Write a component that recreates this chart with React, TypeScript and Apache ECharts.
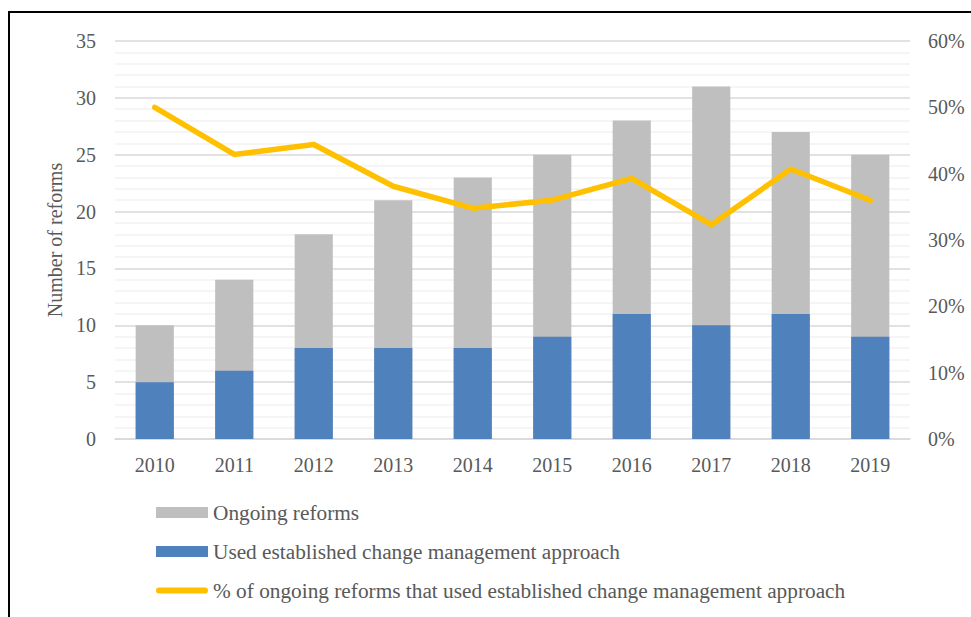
import React, { useEffect, useRef } from "react";
import * as echarts from "echarts";

const years = ["2010", "2011", "2012", "2013", "2014", "2015", "2016", "2017", "2018", "2019"];
const ongoingReforms = [10, 14, 18, 21, 23, 25, 28, 31, 27, 25];
const usedApproach = [5, 6, 8, 8, 8, 9, 11, 10, 11, 9];
const percentUsed = [0.5, 0.429, 0.444, 0.381, 0.348, 0.36, 0.393, 0.323, 0.407, 0.36];

const FONT = "'Liberation Serif', 'Times New Roman', serif";
const TXT = "#595959";

export default function App() {
  const ref = useRef<HTMLDivElement>(null);
  useEffect(() => {
    const chart = echarts.init(ref.current!, null, { renderer: "svg" });
    chart.setOption({
      animation: false,
      textStyle: { fontFamily: FONT },
      grid: { left: 115, right: 61, top: 41, bottom: 178 },
      graphic: [
        {
          type: "rect",
          shape: { x: 9, y: 12, width: 1000, height: 700 },
          style: { fill: "none", stroke: "#000", lineWidth: 2 },
          silent: true,
        },
      ],
      legend: {
        orient: "vertical",
        left: 156,
        top: 502,
        padding: 0,
        itemWidth: 52,
        itemHeight: 11,
        itemGap: 18,
        textStyle: { fontFamily: FONT, fontSize: 21.3, color: TXT },
        data: [
          { name: "Ongoing reforms", icon: "rect" },
          { name: "Used established change management approach", icon: "rect" },
          {
            name: "% of ongoing reforms that used established change management approach",
            icon: "path://M3,0 H51 A3,3 0 0 1 51,6 H3 A3,3 0 0 1 3,0 Z",
          },
        ],
      },
      xAxis: {
        type: "category",
        data: years,
        axisLine: { lineStyle: { color: "#d9d9d9", width: 1.5 } },
        axisTick: { show: false },
        axisLabel: { fontFamily: FONT, fontSize: 20, color: TXT, margin: 16 },
      },
      yAxis: [
        {
          type: "value",
          min: 0,
          max: 35,
          interval: 5,
          name: "Number of reforms",
          nameLocation: "middle",
          nameGap: 48,
          nameTextStyle: { fontFamily: FONT, fontSize: 20, color: TXT },
          axisLine: { show: false },
          axisTick: { show: false },
          axisLabel: { fontFamily: FONT, fontSize: 20, color: TXT, margin: 19 },
          splitLine: { lineStyle: { color: "#d9d9d9", width: 1.5 } },
          minorTick: { show: false, splitNumber: 5 },
          minorSplitLine: { show: true, lineStyle: { color: "#f2f2f2", width: 1.5 } },
        },
        {
          type: "value",
          min: 0,
          max: 0.6,
          interval: 0.1,
          axisLine: { show: false },
          axisTick: { show: false },
          splitLine: { show: false },
          axisLabel: {
            fontFamily: FONT,
            fontSize: 20,
            color: TXT,
            margin: 18,
            formatter: (v: number) => Math.round(v * 100) + "%",
          },
        },
      ],
      series: [
        {
          name: "Ongoing reforms",
          type: "bar",
          data: ongoingReforms,
          barWidth: "48%",
          barGap: "-100%",
          itemStyle: { color: "#BFBFBF" },
        },
        {
          name: "Used established change management approach",
          type: "bar",
          data: usedApproach,
          barWidth: "48%",
          barGap: "-100%",
          itemStyle: { color: "#4F81BD" },
        },
        {
          name: "% of ongoing reforms that used established change management approach",
          type: "line",
          yAxisIndex: 1,
          data: percentUsed,
          symbol: "none",
          lineStyle: { color: "#FFC000", width: 5.5, cap: "round", join: "round" },
          itemStyle: { color: "#FFC000" },
        },
      ],
    });
    return () => chart.dispose();
  }, []);
  return (
    <div
      ref={ref}
      style={{ position: "fixed", left: 0, top: 0, width: 971, height: 617, background: "#fff" }}
    />
  );
}
